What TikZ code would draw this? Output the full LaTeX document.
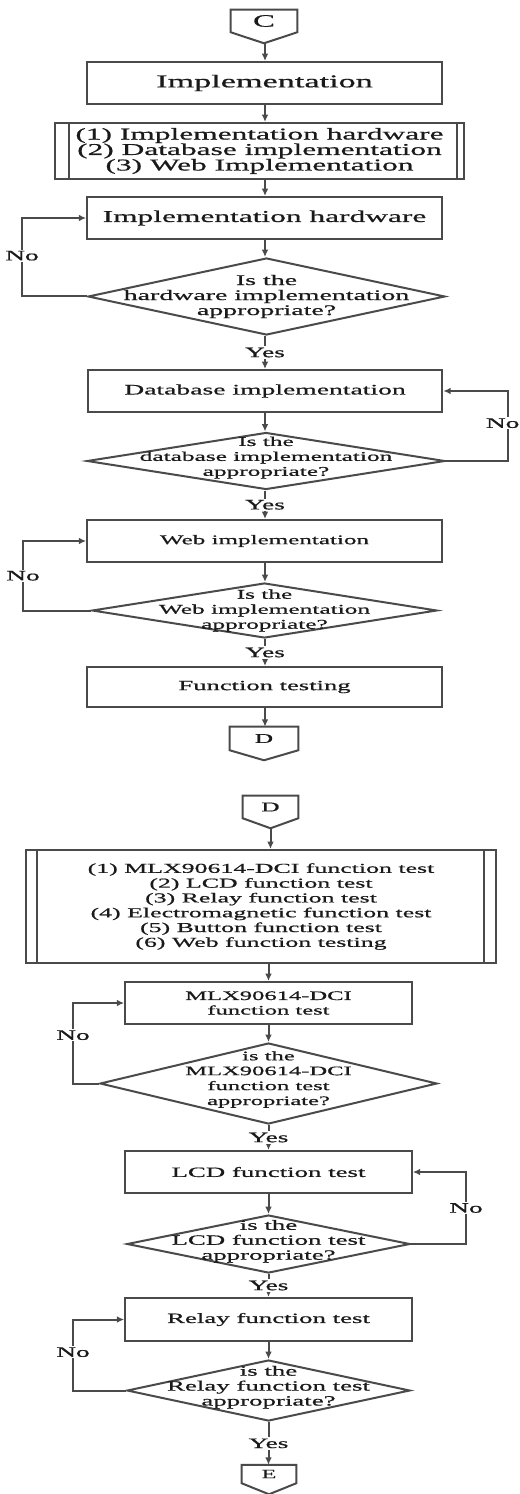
\documentclass[tikz,border=0pt]{standalone}
\usepackage{fontspec}
\setmainfont[FakeStretch=1.9,FakeBold=0.8]{Liberation Serif}
\usetikzlibrary{shapes.geometric,arrows.meta,calc}
\definecolor{edge}{HTML}{4A4A4A}
\definecolor{ink}{HTML}{1A1A1A}

\begin{document}
\begin{tikzpicture}[x=0.75pt,y=-0.75pt,
    line/.style={draw=edge,line width=1.5pt},
    arr/.style={line,-{Latex[length=5.5pt,width=5pt]}},
    box/.style={line,rectangle,minimum width=266pt,minimum height=31.5pt,inner sep=0pt,
        text=ink,align=center,font=\fontsize{10.5}{11.2}\selectfont},
    sbox/.style={box,minimum width=215pt},
    ask/.style={line,diamond,inner sep=0pt},
    qtxt/.style={text=ink,align=center,font=\fontsize{10.5}{11.2}\selectfont},
    conn/.style={rectangle,inner sep=0pt,text=ink,font=\fontsize{10}{11}\selectfont},
    tag/.style={fill=white,inner sep=1pt,text=ink,font=\fontsize{10.8}{11}\selectfont}]
\useasboundingbox (0,0) rectangle (519,1494);
\clip (0,0) rectangle (519,1494);

\coordinate (col1) at (265,0);
\coordinate (col2) at (268.5,0);

\node[conn,minimum width=49.5pt,minimum height=16.5pt,font=\fontsize{13}{13}\selectfont] (c1) at (264,21) {C};
\node[box,font=\fontsize{13.5}{14}\selectfont] (impl) at (264.5,83) {Implementation};
\node[box,minimum width=306.75pt,minimum height=42pt,font=\fontsize{12.4}{11.6}\selectfont] (list1) at (259.5,151)
    {(1) Implementation hardware\\(2) Database implementation\\(3) Web Implementation};
\node[box,font=\fontsize{12.4}{13}\selectfont] (hw) at (264.5,218) {Implementation hardware};
\node[ask,minimum width=267.75pt,minimum height=57.75pt,
    label={[qtxt,font=\fontsize{11}{11.25}\selectfont]center:Is the\\hardware implementation\\appropriate?}] (hwq) at (266.5,296.5) {};
\node[box,font=\fontsize{10.9}{12}\selectfont] (db) at (265,391) {Database implementation};
\node[ask,minimum width=268.5pt,minimum height=42.75pt,
    label={[qtxt,yshift=2.5pt,font=\fontsize{10}{11.2}\selectfont]center:Is the\\database implementation\\appropriate?}] (dbq) at (266,461) {};
\node[box,font=\fontsize{9.9}{11}\selectfont] (web) at (264.5,541) {Web implementation};
\node[ask,minimum width=258.75pt,minimum height=41.25pt,
    label={[qtxt,font=\fontsize{10}{11.25}\selectfont]center:Is the\\Web implementation\\appropriate?}] (webq) at (264.5,610.5) {};
\node[box,minimum height=30pt] (ft) at (264.5,687) {Function testing};
\node[conn,minimum width=51pt,minimum height=17.25pt] (d1) at (264,738.5) {D};

\node[conn,minimum width=41.25pt,minimum height=16.5pt] (d2) at (270.5,807) {D};
\node[box,minimum width=352.5pt,minimum height=84.75pt,font=\fontsize{10.2}{11.1}\selectfont] (list2) at (261,906.5)
    {(1) MLX90614-DCI function test\\(2) LCD function test\\(3) Relay function test\\(4) Electromagnetic function test\\(5) Button function test\\(6) Web function testing};
\node[sbox,font=\fontsize{9.7}{10.9}\selectfont] (mlx) at (268.5,1003) {MLX90614-DCI\\function test};
\node[ask,minimum width=252.75pt,minimum height=60.75pt,
    label={[qtxt,yshift=3pt,font=\fontsize{9.7}{11.2}\selectfont]center:is the\\MLX90614-DCI\\function test\\appropriate?}] (mlxq) at (268.5,1083.5) {};
\node[sbox,font=\fontsize{10.6}{11}\selectfont] (lcd) at (268.5,1172) {LCD function test};
\node[ask,minimum width=212.25pt,minimum height=43.5pt,
    label={[qtxt,yshift=2pt,font=\fontsize{10.6}{11.2}\selectfont]center:is the\\LCD function test\\appropriate?}] (lcdq) at (268.5,1244) {};
\node[sbox,minimum height=32.25pt,font=\fontsize{10.6}{11}\selectfont] (relay) at (268.5,1319.5) {Relay function test};
\node[ask,minimum width=212.25pt,minimum height=45.75pt,
    label={[qtxt,yshift=2.5pt,font=\fontsize{10.6}{11.2}\selectfont]center:is the\\Relay function test\\appropriate?}] (relayq) at (268.5,1390.5) {};
\node[conn,minimum width=40.5pt,minimum height=13.5pt,font=\fontsize{9.5}{10}\selectfont] (e1) at (269,1474) {E};

\foreach \n/\t in {c1/11,d1/10,d2/10,e1/11} {
    \coordinate (\n-tip) at ($(\n.south)+(0,\t)$);
    \draw[line] (\n.north west) -- (\n.north east) -- (\n.south east) -- (\n-tip) -- (\n.south west) -- cycle;
}
\foreach \n/\l/\r in {list1/15/8,list2/12/13} {
    \draw[line] ($(\n.north west)+(\l,0)$) -- ($(\n.south west)+(\l,0)$);
    \draw[line] ($(\n.north east)+(-\r,0)$) -- ($(\n.south east)+(-\r,0)$);
}

\draw[arr] (c1-tip -| col1) -- (impl.north -| col1);
\foreach \a/\b in {impl/list1,list1/hw,hw/hwq,db/dbq,web/webq,ft/d1}
    \draw[arr] (\a.south -| col1) -- (\b.north -| col1);
\foreach \a/\b in {hwq/db,dbq/web,webq/ft}
    \draw[arr] (\a.south -| col1) -- node[tag] {Yes} (\b.north -| col1);
\draw[arr] (d2-tip) -- (d2-tip |- list2.north);
\foreach \a/\b in {list2/mlx,mlx/mlxq,lcd/lcdq,relay/relayq}
    \draw[arr] (\a.south -| col2) -- (\b.north -| col2);
\foreach \a/\b in {mlxq/lcd,lcdq/relay,relayq/e1}
    \draw[arr] (\a.south -| col2) -- node[tag] {Yes} (\b.north -| col2);

\draw[arr] (hwq.west) -- ++(-65,0) |- node[tag,pos=0.26] {No} (hw.west);
\draw[arr] (dbq.east) -- ++(62,0) |- node[tag,pos=0.27,xshift=-4pt] {No} (db.east);
\draw[arr] (webq.west) -- ++(-68,0) |- node[tag,pos=0.25] {No} (web.west);
\draw[arr] (mlxq.west) -- ++(-26,0) |- node[tag,pos=0.3] {No} (mlx.west);
\draw[arr] (lcdq.east) -- ++(55,0) |- node[tag,pos=0.25] {No} (lcd.east);
\draw[arr] (relayq.west) -- ++(-53,0) |- node[tag,pos=0.27] {No} (relay.west);
\end{tikzpicture}
\end{document}
